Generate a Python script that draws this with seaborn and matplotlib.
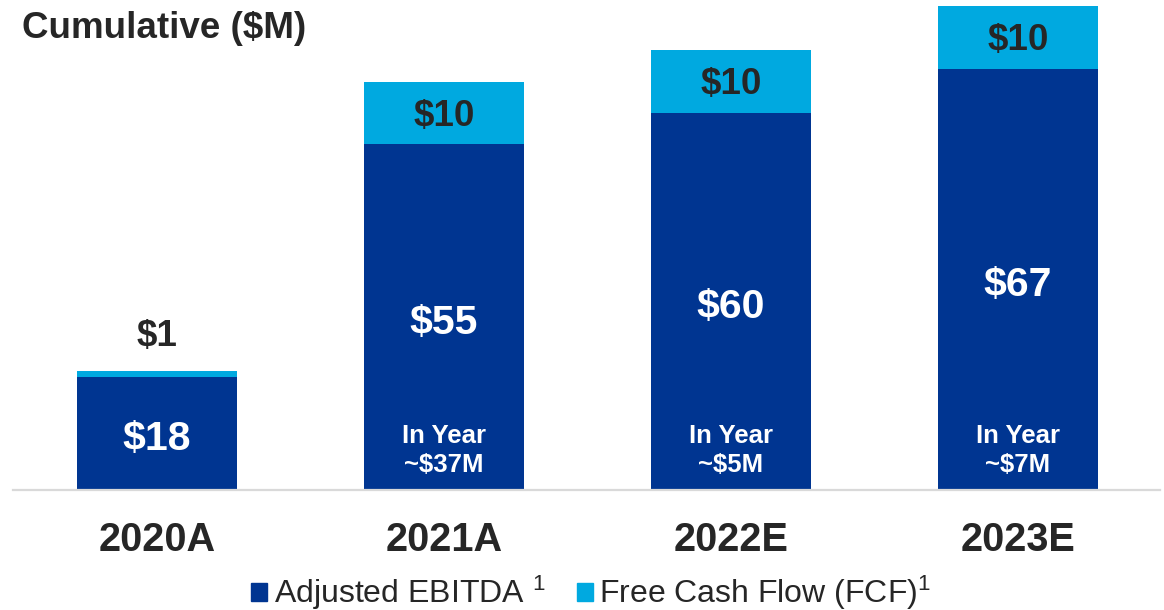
import matplotlib
matplotlib.use("Agg")
import matplotlib.pyplot as plt
from matplotlib.patches import Patch
import seaborn as sns
import pandas as pd

years = ["2020A", "2021A", "2022E", "2023E"]
ebitda = [18, 55, 60, 67]
fcf = [1, 10, 10, 10]
in_year = [None, "~$37M", "~$5M", "~$7M"]

dark_blue = "#003591"
light_blue = "#00A9E0"
ink = "#262626"

sns.set_theme(style="white")
plt.rcParams["font.family"] = ["Liberation Sans", "DejaVu Sans"]
plt.rcParams["mathtext.fontset"] = "custom"
plt.rcParams["mathtext.rm"] = "Liberation Sans"
plt.rcParams["mathtext.default"] = "regular"

df = pd.DataFrame({"year": years, "ebitda": ebitda, "fcf": fcf})
df["total"] = df["ebitda"] + df["fcf"]

fig = plt.figure(figsize=(11.64, 6.10), dpi=100)
ax = fig.add_axes([13 / 1164, 120 / 610, 1147 / 1164, 490 / 610])

bw = 0.557
# cumulative bars: total in light blue, EBITDA over it
sns.barplot(data=df, x="year", y="total", color=light_blue, saturation=1,
            width=bw, ax=ax, linewidth=0)
sns.barplot(data=df, x="year", y="ebitda", color=dark_blue, saturation=1,
            width=bw, ax=ax, linewidth=0)

ax.set_xlim(-0.502, 3.495)
ax.set_ylim(0, 78)

for i, (e, f) in enumerate(zip(ebitda, fcf)):
    ax.text(i, e / 2 - 0.9, f"${e}", ha="center", va="center", color="white",
            fontsize=29.5, fontweight="bold")
    if f >= 5:
        ax.text(i, e + f / 2 - 0.5, f"${f}", ha="center", va="center", color=ink,
                fontsize=26.5, fontweight="bold")
    else:
        ax.text(i, e + f + 5.5, f"${f}", ha="center", va="center", color=ink,
                fontsize=26.5, fontweight="bold")
    if in_year[i]:
        ax.text(i, 6.3, f"In Year\n{in_year[i]}", ha="center", va="center",
                color="white", fontsize=18.5, fontweight="bold", linespacing=1.3)

ax.set_xlabel("")
ax.set_ylabel("")
ax.set_yticks([])
ax.tick_params(axis="x", length=0, pad=22, labelsize=28.5, labelcolor=ink)
for lbl in ax.get_xticklabels():
    lbl.set_fontweight("bold")
for s in ["top", "left", "right"]:
    ax.spines[s].set_visible(False)
ax.spines["bottom"].set_color("#d9d9d9")
ax.spines["bottom"].set_linewidth(1.6)

fig.text(22 / 1164, 1 - 38 / 610, "Cumulative ($M)", ha="left", va="baseline",
         fontsize=26.5, fontweight="bold", color=ink)

handles = [Patch(color=dark_blue), Patch(color=light_blue)]
labels = ["Adjusted EBITDA $^{1}$", "Free Cash Flow (FCF)$^{1}$"]
fig.legend(handles, labels, loc="center", bbox_to_anchor=(0.508, 17 / 610),
           ncol=2, frameon=False, fontsize=23, handlelength=0.5,
           handleheight=0.5, handletextpad=0.2, columnspacing=1.0,
           labelcolor=ink, borderaxespad=0, borderpad=0)

fig.savefig("out.png", dpi=100)
